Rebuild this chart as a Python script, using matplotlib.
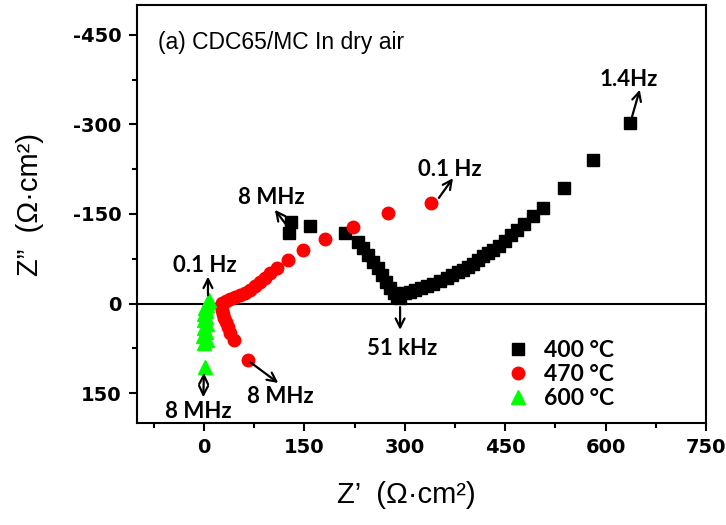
import matplotlib
matplotlib.use("Agg")
import matplotlib.pyplot as plt
from matplotlib.ticker import MultipleLocator

plt.rcParams['axes.unicode_minus'] = False

# Nyquist data, Z' and Z'' in ohm*cm^2, ordered from high to low frequency
z_re_400 = [130, 127, 158, 211, 230, 238, 245, 253, 260, 266, 272, 278, 284, 288,
            293, 300, 308, 316, 324, 333, 342, 352, 363, 371, 379, 387, 394, 402,
            409, 417, 424, 432, 441, 450, 459, 468, 478, 492, 507, 538, 581, 637]
z_im_400 = [-137, -119, -130, -118, -103, -93, -81, -70, -60, -48, -36, -26, -18, -11,
            -10, -17, -20, -23, -26, -29, -33, -38, -43, -48, -53, -57, -61, -67,
            -73, -79, -85, -90, -96, -105, -115, -124, -133, -147, -160, -193, -240, -302]

z_re_470 = [66, 45, 39, 36, 33, 30, 28.5, 27, 25.5, 27, 33, 39, 46, 54, 61, 69, 76,
            84, 91, 99, 109, 126, 148, 181, 223, 275, 339]
z_im_470 = [95, 61, 49, 39, 31, 24, 17.5, 11, 4, -1, -4, -8, -11, -14, -18, -23, -29,
            -36, -43, -51, -60, -73, -90, -108, -128, -152, -168]

z_re_600 = [1.6, 0, 4.6, -1.4, 3, 0, 4.6, 0, 3, 0, 3, 1.6, 4.6, 6, 7.6]
z_im_600 = [106, 66, 61, 54, 48, 41, 34, 28, 22, 17, 12, 7, 2, -3, -6]

series_labels = ['400 \u00b0C', '470 \u00b0C', '600 \u00b0C']

x_ticks = [0, 150, 300, 450, 600, 750]
y_ticks = [-450, -300, -150, 0, 150]

fig = plt.figure(figsize=(7.26, 5.25), dpi=100)
ax = fig.add_axes([0.1887, 0.1943, 0.7838, 0.7962])

ax.axhline(0, color='black', lw=1.5, zorder=1)

ax.plot(z_re_400, z_im_400, ls='none', marker='s', ms=8, color='black',
        label=series_labels[0], zorder=3)
ax.plot(z_re_470, z_im_470, ls='none', marker='o', ms=9, color='#ff0000',
        mec='#ff0000', label=series_labels[1], zorder=4)
ax.plot(z_re_600, z_im_600, ls='none', marker='^', ms=10, color='#00ff00',
        mec='#00ff00', label=series_labels[2], zorder=5)

ax.set_xlim(-100, 750)
ax.set_ylim(200, -500)
ax.set_xticks(x_ticks)
ax.set_yticks(y_ticks)
ax.xaxis.set_minor_locator(MultipleLocator(75))
ax.yaxis.set_minor_locator(MultipleLocator(75))
ax.tick_params(which='major', direction='out', length=6, width=1.5, pad=5)
ax.tick_params(which='minor', direction='out', length=3.5, width=1.5)
for lab in ax.get_xticklabels() + ax.get_yticklabels():
    lab.set_fontfamily('DejaVu Sans')
    lab.set_fontweight('bold')
    lab.set_fontsize(14)
for sp in ax.spines.values():
    sp.set_linewidth(1.5)

fig.text(158 / 726, 1 - 43 / 525, '(a) CDC65/MC In dry air', ha='left', va='center',
         family='Liberation Sans', size=16.5)
label_font = dict(family='Liberation Sans', size=21)
fig.text(406 / 726, 1 - 495 / 525, 'Z\u2019  (\u03a9\u00b7cm\u00b2)', ha='center',
         va='center', **label_font)
fig.text(30 / 726, 1 - 205 / 525, 'Z\u201d  (\u03a9\u00b7cm\u00b2)', ha='center',
         va='center', rotation=90, **label_font)

note_font = dict(family='Lato', weight='bold', size=16)
arrow = dict(arrowstyle='->', color='black', lw=1.6, shrinkA=0, shrinkB=0,
             mutation_scale=16)
arrow2 = dict(arrowstyle='<->', color='black', lw=1.6, shrinkA=0, shrinkB=0,
              mutation_scale=16)

notes = [
    ('1.4Hz', (634, -376), (639, -311), (651, -358), arrow),
    ('0.1 Hz', (368, -225), (351, -177), (372, -210), arrow),
    ('8 MHz', (100, -178), (129, -123), (106, -157), arrow),
    ('0.1 Hz', (2, -63), (6, -14), (6, -45), arrow),
    ('51 kHz', (296, 76), (293, 6), (293, 44), arrow),
    ('8 MHz', (114, 155), (69, 98), (111, 133), arrow),
    ('8 MHz', (-9, 180), (0, 116), (-1, 157), arrow2),
]
for text, pos, start, end, style in notes:
    ax.annotate('', xy=end, xytext=start, arrowprops=style, zorder=6)
    ax.text(pos[0], pos[1], text, ha='center', va='center', zorder=7, **note_font)

ax.legend(loc='upper left', bbox_to_anchor=(0.628, 0.225), frameon=False,
          prop=dict(family='Lato', weight='bold', size=16.5), handletextpad=0.55,
          labelspacing=0.12, borderpad=0, handlelength=1.1)

fig.savefig('out.png', dpi=100)
